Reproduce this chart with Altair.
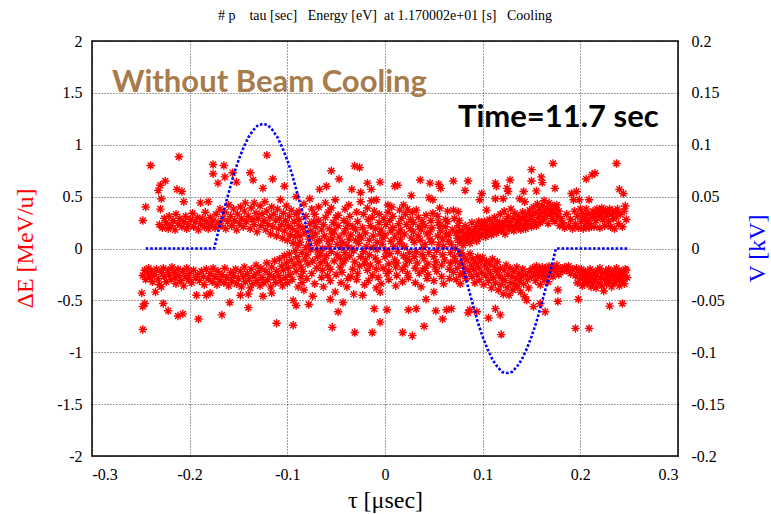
import altair as alt
import pandas as pd

# ---- particle scatter (tau [usec], dE [MeV/u]) ----
UPPER_LEFT = [
(-0.248,0.27),(-0.245,0.40),(-0.240,0.80),(-0.232,0.56),(-0.230,0.61),(-0.225,0.65),(-0.230,0.38),(-0.229,0.48),(-0.228,0.20),(-0.231,0.23),
(-0.226,0.29),(-0.224,0.25),(-0.222,0.19),(-0.221,0.31),(-0.219,0.22),(-0.217,0.27),(-0.215,0.18),(-0.214,0.33),(-0.213,0.57),(-0.211,0.885),
(-0.212,0.24),(-0.210,0.29),(-0.208,0.55),(-0.208,0.21),(-0.206,0.45),(-0.206,0.26),(-0.204,0.31),(-0.203,0.19),(-0.201,0.23),(-0.199,0.28),
(-0.197,0.34),(-0.196,0.21),(-0.194,0.26),(-0.192,0.30),(-0.191,0.18),(-0.189,0.44),(-0.189,0.24),(-0.187,0.29),(-0.185,0.21),(-0.184,0.35),
(-0.183,0.26),(-0.181,0.45),(-0.181,0.19),(-0.179,0.30),(-0.178,0.23),(-0.176,0.81),(-0.176,0.72),(-0.176,0.27),(-0.174,0.20),(-0.173,0.33),
(-0.171,0.63),(-0.171,0.25),(-0.169,0.38),(-0.168,0.22),(-0.166,0.29),(-0.165,0.80),(-0.164,0.69),(-0.164,0.35),(-0.163,0.19),(-0.161,0.26),
(-0.160,0.42),(-0.158,0.31),(-0.157,0.22),(-0.156,0.73),(-0.155,0.38),(-0.154,0.27),(-0.152,0.64),(-0.152,0.18),(-0.151,0.33),(-0.149,0.24),
(-0.148,0.40),(-0.147,0.29),(-0.145,0.21),(-0.144,0.36),(-0.143,0.44),(-0.142,0.26),(-0.140,0.31),(-0.138,0.73),(-0.138,0.19),(-0.137,0.39),
(-0.136,0.28),(-0.135,0.66),(-0.134,0.44),(-0.134,0.23),(-0.132,0.34),(-0.131,0.16),(-0.130,0.29),(-0.128,0.41),(-0.127,0.22),(-0.126,0.33),
(-0.125,0.58),(-0.124,0.27),(-0.123,0.45),(-0.122,0.18),(-0.121,0.90),(-0.121,0.36),(-0.120,0.24),(-0.118,0.30),(-0.117,0.14),(-0.116,0.40),
(-0.115,0.67),(-0.115,0.21),(-0.114,0.33),(-0.112,0.27),(-0.111,0.12),(-0.110,0.38),(-0.109,0.19),(-0.108,0.29),(-0.107,0.47),(-0.106,0.23),
(-0.105,0.10),(-0.104,0.34),(-0.103,0.60),(-0.103,0.17),(-0.102,0.27),(-0.101,0.41),(-0.100,0.08),(-0.099,0.22),(-0.098,0.31),(-0.097,0.13),
(-0.096,0.37),(-0.095,0.19),(-0.094,0.05),(-0.093,0.26),(-0.092,0.11),(-0.091,0.50),(-0.091,0.33),(-0.090,0.16),(-0.089,0.03),(-0.088,0.22),
]

LOWER_LEFT = [
(-0.249,-0.43),(-0.246,-0.53),(-0.248,-0.56),(-0.248,-0.78),(-0.248,-0.26),(-0.246,-0.21),(-0.245,-0.30),(-0.243,-0.24),(-0.242,-0.19),(-0.241,-0.28),
(-0.239,-0.22),(-0.238,-0.32),(-0.236,-0.25),(-0.235,-0.42),(-0.234,-0.20),(-0.232,-0.29),(-0.231,-0.35),(-0.229,-0.37),(-0.229,-0.23),(-0.227,-0.53),
(-0.227,-0.19),(-0.226,-0.27),(-0.224,-0.32),(-0.222,-0.60),(-0.222,-0.21),(-0.221,-0.25),(-0.219,-0.30),(-0.218,-0.18),(-0.216,-0.23),(-0.215,-0.28),
(-0.214,-0.34),(-0.212,-0.65),(-0.212,-0.20),(-0.211,-0.26),(-0.209,-0.31),(-0.207,-0.63),(-0.207,-0.22),(-0.206,-0.36),(-0.204,-0.27),(-0.203,-0.19),
(-0.201,-0.30),(-0.200,-0.24),(-0.198,-0.33),(-0.196,-0.21),(-0.194,-0.28),(-0.193,-0.45),(-0.192,-0.25),(-0.191,-0.68),(-0.190,-0.31),(-0.188,-0.22),
(-0.186,-0.27),(-0.185,-0.35),(-0.183,-0.45),(-0.183,-0.20),(-0.181,-0.29),(-0.179,-0.43),(-0.179,-0.24),(-0.177,-0.32),(-0.176,-0.19),(-0.174,-0.27),
(-0.172,-0.35),(-0.171,-0.22),(-0.169,-0.30),(-0.167,-0.64),(-0.167,-0.25),(-0.165,-0.33),(-0.164,-0.19),(-0.162,-0.28),(-0.160,-0.36),(-0.159,-0.52),
(-0.158,-0.23),(-0.157,-0.31),(-0.155,-0.26),(-0.153,-0.20),(-0.152,-0.34),(-0.150,-0.29),(-0.148,-0.45),(-0.148,-0.22),(-0.147,-0.37),(-0.145,-0.27),
(-0.144,-0.18),(-0.143,-0.32),(-0.141,-0.24),(-0.140,-0.57),(-0.140,-0.44),(-0.139,-0.29),(-0.138,-0.38),(-0.137,-0.20),(-0.135,-0.34),(-0.134,-0.26),
(-0.132,-0.16),(-0.131,-0.31),(-0.130,-0.23),(-0.128,-0.36),(-0.127,-0.19),(-0.126,-0.28),(-0.125,-0.46),(-0.124,-0.33),(-0.122,-0.22),(-0.121,-0.14),
(-0.120,-0.30),(-0.118,-0.25),(-0.117,-0.37),(-0.116,-0.43),(-0.116,-0.18),(-0.114,-0.28),(-0.113,-0.12),(-0.112,-0.33),(-0.111,-0.72),(-0.111,-0.22),
(-0.109,-0.26),(-0.108,-0.10),(-0.107,-0.31),(-0.106,-0.17),(-0.105,-0.36),(-0.104,-0.21),(-0.103,-0.07),(-0.102,-0.28),(-0.101,-0.14),(-0.100,-0.33),
(-0.099,-0.19),(-0.098,-0.05),(-0.097,-0.25),(-0.096,-0.11),(-0.095,-0.30),(-0.094,-0.74),(-0.094,-0.50),(-0.093,-0.16),(-0.092,-0.02),(-0.091,-0.55),
(-0.091,-0.22),(-0.090,-0.08),(-0.089,-0.37),(-0.088,-0.13),
]

CORE = [
(-0.088,0.28),(-0.086,-0.27),(-0.087,0.12),(-0.085,-0.04),(-0.088,0.36),(-0.086,-0.18),(-0.087,0.06),(-0.085,-0.33),
(-0.084,0.20),(-0.082,-0.10),(-0.083,0.43),(-0.081,0.01),(-0.084,-0.22),(-0.082,0.15),(-0.083,-0.40),(-0.081,0.31),
(-0.080,-0.06),(-0.078,0.09),(-0.079,-0.15),(-0.077,0.24),(-0.077,0.48),(-0.080,-0.29),(-0.078,0.03),(-0.078,-0.54),
(-0.076,0.17),(-0.074,-0.12),(-0.075,0.38),(-0.074,-0.46),(-0.076,-0.01),(-0.073,0.26),(-0.075,-0.24),(-0.074,0.11),
(-0.072,-0.34),(-0.070,0.05),(-0.071,0.21),(-0.069,-0.08),(-0.072,0.33),(-0.070,-0.19),(-0.071,0.14),(-0.069,-0.02),
(-0.067,0.57),(-0.068,0.27),(-0.066,-0.14),(-0.067,0.08),(-0.065,-0.28),(-0.068,0.40),(-0.066,-0.05),(-0.065,0.18),
(-0.064,-0.21),(-0.062,0.12),(-0.063,-0.37),(-0.061,0.30),(-0.064,0.00),(-0.062,-0.11),(-0.063,0.23),(-0.061,0.44),
(-0.060,0.60),(-0.058,0.07),(-0.059,-0.26),(-0.057,0.19),(-0.060,-0.07),(-0.058,0.35),(-0.059,-0.16),(-0.057,0.02),
(-0.055,0.75),(-0.056,-0.31),(-0.054,0.14),(-0.055,-0.03),(-0.053,0.25),(-0.056,-0.20),(-0.054,0.09),(-0.055,0.39),(-0.054,-0.76),(-0.056,-0.49),
(-0.052,-0.12),(-0.050,0.30),(-0.051,-0.42),(-0.049,0.04),(-0.052,0.17),(-0.050,-0.25),(-0.051,0.47),(-0.049,-0.06),
(-0.047,0.67),(-0.048,0.22),(-0.046,-0.09),(-0.047,0.11),(-0.045,-0.33),(-0.048,0.32),(-0.046,-0.18),(-0.045,0.01),(-0.048,-0.61),
(-0.043,-0.52),(-0.044,0.06),(-0.042,0.27),(-0.043,-0.14),(-0.041,0.38),(-0.044,-0.23),(-0.042,0.15),(-0.041,-0.04),
(-0.040,0.19),(-0.038,-0.29),(-0.039,0.03),(-0.037,0.42),(-0.040,-0.10),(-0.038,0.24),(-0.039,-0.37),(-0.037,0.09),
(-0.034,0.57),(-0.036,-0.07),(-0.035,0.13),(-0.033,-0.20),(-0.036,0.31),(-0.034,0.00),(-0.035,-0.27),(-0.033,0.21),
(-0.031,0.795),(-0.032,-0.44),(-0.030,0.08),(-0.031,-0.13),(-0.029,0.35),(-0.032,-0.02),(-0.030,0.18),(-0.029,-0.30),(-0.031,-0.81),
(-0.026,0.78),(-0.028,0.26),(-0.026,-0.17),(-0.027,0.05),(-0.025,0.45),(-0.028,-0.24),(-0.026,0.12),(-0.025,-0.08),
(-0.023,-0.45),(-0.025,0.54),(-0.022,-0.03),(-0.023,0.20),(-0.021,-0.35),(-0.024,0.10),(-0.022,0.33),(-0.021,-0.15),
(-0.018,0.63),(-0.020,0.15),(-0.018,-0.21),(-0.019,0.02),(-0.017,0.28),(-0.020,-0.11),(-0.018,0.39),(-0.017,-0.31),
(-0.014,0.57),(-0.016,-0.06),(-0.015,0.22),(-0.013,-0.26),(-0.016,0.08),(-0.014,0.46),(-0.015,-0.16),(-0.013,0.30),(-0.013,-0.81),
(-0.011,-0.58),(-0.012,0.12),(-0.010,-0.09),(-0.011,0.36),(-0.009,-0.38),(-0.012,0.01),(-0.010,0.19),(-0.009,-0.20),(-0.009,0.47),
(-0.007,-0.28),(-0.008,0.06),(-0.006,0.25),(-0.007,-0.13),(-0.005,0.14),(-0.008,-0.01),(-0.006,0.33),(-0.005,-0.42),
(-0.005,0.64),(-0.005,-0.71),(-0.004,0.18),(-0.002,-0.19),(-0.003,0.04),(-0.001,0.29),(-0.004,-0.34),(-0.002,0.10),
(0.003,0.42),(0.002,-0.59),(0.000,-0.08),(0.001,0.23),(0.002,-0.24),(0.000,0.13),(0.001,-0.02),(0.003,0.35),
(0.004,-0.15),(0.006,0.07),(0.005,0.27),(0.004,-0.30),(0.006,0.17),(0.005,-0.05),(0.007,0.40),(0.004,-0.22),
(0.010,0.60),(0.008,0.20),(0.010,-0.11),(0.009,0.02),(0.011,-0.36),(0.008,0.31),(0.010,0.11),(0.011,-0.18),
(0.013,0.61),(0.012,-0.26),(0.014,0.15),(0.013,-0.03),(0.015,0.37),(0.012,-0.14),(0.014,0.24),(0.015,0.05),
(0.018,-0.81),(0.016,0.09),(0.018,-0.20),(0.017,0.29),(0.019,-0.07),(0.016,0.18),(0.018,-0.32),(0.019,0.42),
(0.020,0.14),(0.022,-0.10),(0.021,0.33),(0.023,-0.24),(0.020,0.02),(0.022,0.23),(0.021,-0.16),(0.023,0.38),
(0.024,-0.59),(0.026,0.28),(0.025,-0.04),(0.027,0.10),(0.024,-0.28),(0.026,0.19),(0.025,-0.12),(0.027,0.51),
(0.028,-0.84),(0.030,0.06),(0.029,0.25),(0.031,-0.19),(0.028,0.35),(0.030,-0.08),(0.029,0.16),(0.031,-0.33),
(0.032,0.37),(0.032,-0.58),(0.034,0.12),(0.033,-0.14),(0.035,0.21),(0.032,-0.03),(0.034,0.30),(0.035,-0.24),
(0.036,0.66),(0.038,-0.06),(0.037,0.18),(0.039,-0.21),(0.036,0.08),(0.038,0.26),(0.037,-0.37),(0.039,0.01),
(0.040,-0.75),(0.042,-0.49),(0.041,-0.19),(0.043,0.14),(0.040,-0.10),(0.042,0.32),(0.041,0.04),(0.043,-0.29),(0.041,0.22),
(0.046,0.63),(0.045,0.49),(0.044,-0.15),(0.046,0.09),(0.045,-0.04),(0.047,0.27),(0.044,-0.25),(0.046,0.16),
(0.049,0.47),(0.050,-0.42),(0.048,0.20),(0.050,-0.08),(0.049,0.34),(0.051,-0.18),(0.048,0.06),(0.050,-0.31),
(0.052,-0.60),(0.054,0.12),(0.053,-0.02),(0.055,0.25),(0.052,-0.13),(0.054,0.31),(0.053,-0.22),(0.055,0.62),(0.055,0.04),
(0.057,0.58),(0.056,0.39),(0.058,-0.27),(0.057,0.17),(0.059,-0.06),(0.056,0.22),(0.058,-0.16),(0.059,0.09),
(0.059,-0.68),(0.063,-0.59),(0.060,0.02),(0.062,0.28),(0.061,-0.11),(0.063,0.14),(0.060,-0.34),(0.062,0.21),
(0.064,0.36),(0.066,-0.20),(0.065,0.07),(0.067,-0.04),(0.064,0.26),(0.066,-0.29),(0.065,0.13),(0.067,-0.14),
(0.070,0.65),(0.070,0.37),(0.068,-0.58),(0.069,0.18),(0.071,-0.08),(0.068,0.04),(0.070,-0.23),(0.071,0.29),
(0.075,0.355),(0.072,-0.12),(0.074,0.10),(0.073,-0.30),(0.075,0.22),(0.072,0.00),(0.074,-0.19),(0.073,0.15),
(0.076,0.06),(0.077,-0.05),(0.076,0.16),(0.077,-0.25),(0.076,0.27),(0.077,-0.14),(0.076,0.11),(0.077,-0.34),
]

UPPER_RIGHT = [
(0.078,0.08),(0.079,0.17),(0.080,0.03),(0.081,0.12),(0.082,0.56),(0.082,0.22),(0.083,0.07),(0.084,0.15),(0.085,0.65),(0.085,0.10),
(0.086,0.19),(0.087,0.05),(0.088,0.14),(0.089,0.25),(0.090,0.09),(0.091,0.17),(0.092,0.12),(0.093,0.21),(0.094,0.07),(0.095,0.15),
(0.096,0.26),(0.097,0.47),(0.097,0.11),(0.098,0.19),(0.099,0.53),(0.099,0.24),(0.100,0.14),(0.101,0.20),(0.102,0.26),(0.103,0.11),
(0.104,0.37),(0.104,0.17),(0.105,0.22),(0.106,0.15),(0.107,0.28),(0.108,0.19),(0.109,0.13),(0.110,0.24),(0.111,0.18),(0.112,0.30),
(0.113,0.63),(0.113,0.48),(0.113,0.21),(0.114,0.60),(0.114,0.15),(0.115,0.26),(0.116,0.19),(0.117,0.23),(0.118,0.33),(0.119,0.17),
(0.120,0.25),(0.121,0.48),(0.121,0.20),(0.122,0.36),(0.123,0.14),(0.124,0.27),(0.125,0.58),(0.125,0.22),(0.126,0.55),(0.126,0.31),
(0.127,0.18),(0.128,0.66),(0.128,0.25),(0.129,0.38),(0.130,0.21),(0.131,0.29),(0.132,0.17),(0.133,0.34),(0.134,0.23),(0.135,0.27),
(0.136,0.20),(0.137,0.31),(0.138,0.48),(0.138,0.24),(0.139,0.18),(0.140,0.28),(0.141,0.35),(0.142,0.55),(0.142,0.22),(0.143,0.45),
(0.143,0.30),(0.144,0.19),(0.145,0.26),(0.146,0.33),(0.147,0.23),(0.148,0.37),(0.149,0.28),(0.150,0.76),(0.150,0.65),(0.150,0.21),
(0.151,0.32),(0.152,0.40),(0.153,0.26),(0.154,0.35),(0.155,0.555),(0.155,0.22),(0.156,0.43),(0.157,0.30),(0.158,0.38),(0.159,0.25),
(0.160,0.69),(0.160,0.34),(0.161,0.635),(0.161,0.41),(0.162,0.28),(0.163,0.46),(0.164,0.36),(0.165,0.31),(0.166,0.39),(0.167,0.24),
(0.168,0.44),(0.169,0.33),(0.170,0.37),(0.171,0.29),(0.172,0.82),(0.172,0.41),(0.173,0.34),(0.174,0.58),(0.174,0.26),(0.175,0.38),
(0.176,0.42),(0.177,0.31),(0.178,0.36),(0.179,0.22),(0.180,0.29),(0.182,0.25),(0.184,0.20),(0.186,0.33),(0.188,0.22),(0.190,0.28),
(0.191,0.53),(0.192,0.19),(0.193,0.47),(0.194,0.36),(0.195,0.24),(0.196,0.55),(0.197,0.31),(0.198,0.20),(0.199,0.47),(0.200,0.38),
(0.201,0.26),(0.202,0.34),(0.203,0.19),(0.204,0.30),(0.205,0.22),(0.206,0.67),(0.206,0.38),(0.207,0.27),(0.208,0.33),(0.209,0.47),
(0.209,0.20),(0.210,0.24),(0.212,0.71),(0.212,0.30),(0.213,0.36),(0.214,0.21),(0.215,0.725),(0.215,0.34),(0.216,0.27),(0.217,0.38),
(0.218,0.31),(0.219,0.36),(0.220,0.20),(0.221,0.33),(0.222,0.39),(0.223,0.28),(0.224,0.35),(0.225,0.22),(0.226,0.37),(0.227,0.31),
(0.228,0.34),(0.229,0.26),(0.230,0.38),(0.231,0.21),(0.232,0.33),(0.233,0.36),(0.234,0.29),(0.235,0.19),(0.236,0.35),(0.237,0.82),
(0.237,0.31),(0.238,0.38),(0.239,0.24),(0.240,0.57),(0.241,0.33),(0.243,0.21),(0.244,0.53),(0.245,0.36),(0.246,0.41),(0.247,0.28),
]

LOWER_RIGHT = [
(0.078,-0.04),(0.079,-0.15),(0.080,-0.24),(0.081,-0.08),(0.082,-0.19),(0.083,-0.29),(0.084,-0.11),(0.085,-0.62),(0.086,-0.22),(0.087,-0.05),
(0.087,-0.59),(0.088,-0.16),(0.089,-0.27),(0.090,-0.10),(0.091,-0.20),(0.092,-0.33),(0.093,-0.14),(0.094,-0.61),(0.094,-0.25),(0.095,-0.08),
(0.096,-0.18),(0.097,-0.30),(0.098,-0.12),(0.099,-0.23),(0.100,-0.09),(0.101,-0.35),(0.102,-0.16),(0.103,-0.26),(0.104,-0.12),(0.105,-0.20),
(0.106,-0.67),(0.106,-0.31),(0.107,-0.15),(0.108,-0.24),(0.109,-0.38),(0.110,-0.10),(0.111,-0.28),(0.112,-0.18),(0.113,-0.58),(0.113,-0.33),
(0.114,-0.22),(0.115,-0.13),(0.116,-0.40),(0.117,-0.26),(0.118,-0.64),(0.118,-0.19),(0.119,-0.83),(0.119,-0.35),(0.120,-0.29),(0.121,-0.44),
(0.122,-0.21),(0.123,-0.31),(0.124,-0.16),(0.125,-0.38),(0.126,-0.25),(0.127,-0.45),(0.128,-0.19),(0.129,-0.33),(0.130,-0.27),(0.131,-0.40),
(0.132,-0.22),(0.133,-0.35),(0.134,-0.29),(0.135,-0.18),(0.136,-0.37),(0.137,-0.24),(0.138,-0.31),(0.139,-0.42),(0.140,-0.27),(0.141,-0.20),
(0.142,-0.34),(0.143,-0.465),(0.144,-0.25),(0.145,-0.50),(0.146,-0.30),(0.147,-0.38),(0.148,-0.22),(0.150,-0.27),(0.151,-0.19),(0.152,-0.56),
(0.153,-0.24),(0.154,-0.31),(0.155,-0.17),(0.156,-0.22),(0.157,-0.27),(0.158,-0.20),(0.159,-0.53),(0.159,-0.35),(0.160,-0.25),(0.161,-0.18),
(0.162,-0.23),(0.163,-0.30),(0.164,-0.61),(0.164,-0.19),(0.165,-0.26),(0.166,-0.21),(0.167,-0.32),(0.168,-0.17),(0.169,-0.24),(0.170,-0.20),
(0.172,-0.27),(0.173,-0.18),(0.175,-0.22),(0.176,-0.16),(0.177,-0.40),(0.177,-0.51),(0.178,-0.25),(0.180,-0.19),(0.182,-0.22),(0.184,-0.18),
(0.186,-0.21),(0.188,-0.17),(0.190,-0.24),(0.192,-0.20),(0.195,-0.77),(0.195,-0.26),(0.196,-0.19),(0.197,-0.33),(0.198,-0.49),(0.199,-0.23),
(0.200,-0.29),(0.201,-0.20),(0.202,-0.36),(0.203,-0.25),(0.204,-0.31),(0.205,-0.22),(0.206,-0.28),(0.207,-0.34),(0.208,-0.24),(0.209,-0.77),
(0.209,-0.30),(0.210,-0.20),(0.211,-0.37),(0.212,-0.27),(0.213,-0.33),(0.214,-0.23),(0.215,-0.30),(0.216,-0.38),(0.217,-0.26),(0.218,-0.21),
(0.219,-0.33),(0.220,-0.19),(0.221,-0.28),(0.222,-0.36),(0.223,-0.24),(0.224,-0.41),(0.225,-0.30),(0.226,-0.22),(0.227,-0.34),(0.228,-0.27),
(0.229,-0.20),(0.230,-0.555),(0.230,-0.31),(0.231,-0.25),(0.232,-0.37),(0.233,-0.22),(0.234,-0.29),(0.235,-0.33),(0.236,-0.26),(0.237,-0.19),
(0.238,-0.30),(0.239,-0.24),(0.240,-0.36),(0.241,-0.28),(0.242,-0.22),(0.243,-0.53),(0.243,-0.31),(0.244,-0.25),(0.245,-0.34),(0.246,-0.20),
(0.247,-0.21),(0.248,-0.28),
]

# ---- RF voltage (tau [usec], V [kV]) ----
V_TAU = [
-0.245,-0.240,-0.235,-0.230,-0.225,-0.220,-0.215,-0.210,-0.205,-0.200,-0.195,-0.190,-0.185,-0.180,-0.175,
-0.170,-0.165,-0.160,-0.155,-0.150,-0.145,-0.140,-0.135,-0.130,-0.125,-0.120,-0.115,-0.110,-0.105,-0.100,-0.095,-0.090,-0.085,-0.080,-0.075,
-0.070,-0.065,-0.060,-0.055,-0.050,-0.045,-0.040,-0.035,-0.030,-0.025,-0.020,-0.015,-0.010,-0.005,0.000,
0.005,0.010,0.015,0.020,0.025,0.030,0.035,0.040,0.045,0.050,0.055,0.060,0.065,0.070,0.075,
0.080,0.085,0.090,0.095,0.100,0.105,0.110,0.115,0.120,0.125,0.130,0.135,0.140,0.145,0.150,0.155,0.160,0.165,0.170,0.175,
0.180,0.185,0.190,0.195,0.200,0.205,0.210,0.215,0.220,0.225,0.230,0.235,0.240,0.245,0.250,
]
V_KV = [
0,0,0,0,0,0,0,0,0,0,0,0,0,0,0,
0.019,0.037,0.054,0.071,0.085,0.097,0.107,0.114,0.119,0.120,0.119,0.114,0.107,0.097,0.085,0.071,0.054,0.037,0.019,0,
0,0,0,0,0,0,0,0,0,0,0,0,0,0,0,
0,0,0,0,0,0,0,0,0,0,0,0,0,0,0,
-0.019,-0.037,-0.054,-0.071,-0.085,-0.097,-0.107,-0.114,-0.119,-0.120,-0.119,-0.114,-0.107,-0.097,-0.085,-0.071,-0.054,-0.037,-0.019,0,
0,0,0,0,0,0,0,0,0,0,0,0,0,0,0,
]

X_TICKS = [-0.3, -0.2, -0.1, 0, 0.1, 0.2, 0.3]
Y_TICKS = [-2, -1.5, -1, -0.5, 0, 0.5, 1, 1.5, 2]
V_TICKS = [-0.2, -0.15, -0.1, -0.05, 0, 0.05, 0.1, 0.15, 0.2]

NOTE_TEXT = ["Without Beam Cooling", "Time=11.7 sec"]
NOTE_TAU = [-0.2795, 0.0747]
NOTE_DE = [1.51, 1.17]
NOTE_COLOR = ["#a87b4c", "#000000"]

pts = pd.DataFrame(UPPER_LEFT + LOWER_LEFT + CORE + UPPER_RIGHT + LOWER_RIGHT, columns=["tau", "dE"])
volt = pd.DataFrame({"tau": V_TAU, "V": V_KV})
notes = pd.DataFrame({"text": NOTE_TEXT, "tau": NOTE_TAU, "dE": NOTE_DE, "color": NOTE_COLOR})

SERIF = "Liberation Serif"
ASTERISK = "M-1,0L1,0M0,-1L0,1M-0.7,-0.7L0.7,0.7M-0.7,0.7L0.7,-0.7"

xscale = alt.Scale(domain=[-0.3, 0.3], nice=False, zero=False)
yscale = alt.Scale(domain=[-2, 2], nice=False, zero=False)
vscale = alt.Scale(domain=[-0.2, 0.2], nice=False, zero=False)

common = dict(domain=False, ticks=False, labelFont=SERIF, labelFontSize=16, labelColor="#000",
              titleFont=SERIF, titleFontSize=24, titleFontWeight="normal",
              gridColor="#000", gridDash=[1, 2], gridOpacity=0.75, gridWidth=1,
              labelExpr="'' + datum.value")

xaxis = alt.Axis(values=X_TICKS, title="τ [μsec]", grid=True, labelPadding=10,
                 titleX=293, titleY=44, titleBaseline="middle", titleAlign="center",
                 titleColor="#000", **common)
yaxis = alt.Axis(values=Y_TICKS, title="ΔE [MeV/u]", grid=True, labelPadding=10,
                 titleColor="#ff0000", titleX=-67, titleY=207, titleAngle=270,
                 titleBaseline="middle", titleAlign="center", **common)
vaxis = alt.Axis(values=V_TICKS, title="V [kV]", orient="right", grid=False, labelPadding=13,
                 titleColor="#0000ff", titleX=79, titleY=207, titleAngle=270,
                 titleBaseline="middle", titleAlign="center", **common)

points = alt.Chart(pts).mark_point(
    shape=ASTERISK, size=72, filled=False, color="#ff0000", strokeWidth=1.4, opacity=1
).encode(
    x=alt.X("tau:Q", scale=xscale, axis=xaxis),
    y=alt.Y("dE:Q", scale=yscale, axis=yaxis),
)

texts = alt.Chart(notes).mark_text(
    align="left", baseline="alphabetic", font="Lato", fontSize=31, fontWeight="bold"
).encode(
    x=alt.X("tau:Q", scale=xscale, axis=None),
    y=alt.Y("dE:Q", scale=yscale, axis=None),
    text="text:N",
    color=alt.Color("color:N", scale=None),
)

vline = alt.Chart(volt).mark_line(
    color="#0000ff", strokeWidth=2.6, strokeDash=[2.6, 1.9], opacity=1
).encode(
    x=alt.X("tau:Q", scale=xscale, axis=None),
    y=alt.Y("V:Q", scale=vscale, axis=vaxis),
)

# axes resolved independently so each axis comes from one layer only (no merging)
left = alt.layer(points, texts).resolve_axis(x="independent", y="independent")
chart = alt.layer(left, vline).resolve_scale(y="independent").resolve_axis(
    x="independent", y="independent"
).properties(
    width=586, height=415,
    title=alt.TitleParams(
        "# p\u00a0\u00a0\u00a0 tau [sec]\u00a0\u00a0 Energy [eV]\u00a0 at 1.170002e+01 [s]\u00a0\u00a0 Cooling",
        font=SERIF, fontSize=14, fontWeight="normal", color="#000", anchor="middle", offset=10),
    autosize=alt.AutoSizeParams(type="none"),
    padding={"left": 92, "top": 41, "right": 93, "bottom": 58},
).configure_view(
    stroke="#000", strokeWidth=1.5
).configure_axis(
    labelFont=SERIF, titleFont=SERIF
).configure_title(
    font=SERIF
)

chart.save("out.html", embed_options={"renderer": "svg", "actions": False})
